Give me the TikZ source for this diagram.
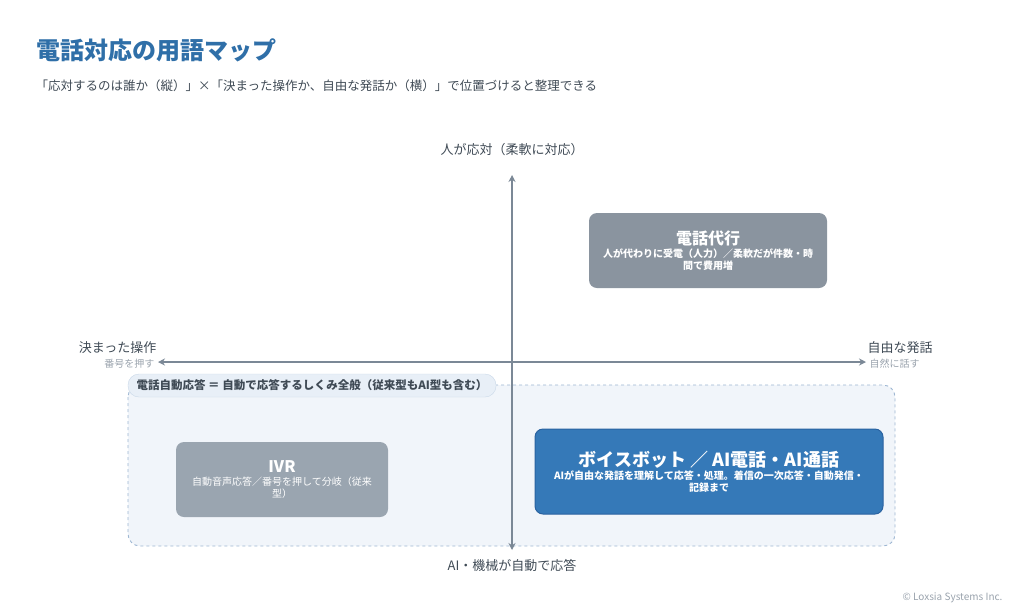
\documentclass[tikz,border=0pt]{standalone}
\usepackage{fontspec}
\setmainfont{Noto Sans CJK JP}
\usetikzlibrary{arrows.meta}
\definecolor{titleblue}{HTML}{2F6FA8}
\definecolor{axisgray}{HTML}{7B8896}
\definecolor{txtgray}{HTML}{3F4A55}
\definecolor{lightgray}{HTML}{9AA3AD}
\definecolor{zonefill}{HTML}{F1F5FA}
\definecolor{zoneline}{HTML}{9DB6D2}
\definecolor{pillfill}{HTML}{E8EFF7}
\definecolor{pillline}{HTML}{C9D8E8}
\definecolor{agentfill}{HTML}{8A949F}
\definecolor{ivrfill}{HTML}{9AA5B0}
\definecolor{botfill}{HTML}{3579B8}
\definecolor{botline}{HTML}{2A62A0}
\tikzset{
  term/.style={rounded corners=8pt, text=white, align=center},
  axis/.style={axisgray, line width=2.2pt, -{Stealth[length=7pt,width=7pt]}},
}
\begin{document}
\begin{tikzpicture}[x=1pt,y=-1pt]
    \useasboundingbox (0,0) rectangle (1024,614);

    \node [anchor=west, text=titleblue, font=\bfseries\fontsize{24}{28}\selectfont] (title) at (33,50) {電話対応の用語マップ};
    \node [anchor=west, text=txtgray, font=\fontsize{12.5}{14}\selectfont] (sub) at (32,86) {「応対するのは誰か（縦）」×「決まった操作か、自由な発話か（横）」で位置づけると整理できる};

    % automatic zone
    \draw [zoneline, fill=zonefill, dashed, line width=0.9pt, rounded corners=12pt] (128,385) rectangle (895,546);

    % axes
    \coordinate (c) at (512,362);
    \coordinate (top) at (512,175);
    \coordinate (bot) at (512,550);
    \coordinate (left) at (158,362);
    \coordinate (right) at (866,362);
    \draw [axis] (c) -- (top);
    \draw [axis] (c) -- (bot);
    \draw [axis] (c) -- (left);
    \draw [axis] (c) -- (right);

    \node [txtgray, font=\fontsize{13}{15}\selectfont] (toplab) at (512,150) {人が応対（柔軟に対応）};
    \node [txtgray, font=\fontsize{13}{15}\selectfont] (botlab) at (512,565) {AI・機械が自動で応答};
    \node [anchor=east, txtgray, font=\fontsize{13}{15}\selectfont] (leftlab) at (160,348) {決まった操作};
    \node [anchor=east, lightgray, font=\fontsize{10}{11}\selectfont] (leftsub) at (158,364) {番号を押す};
    \node [anchor=west, txtgray, font=\fontsize{13}{15}\selectfont] (rightlab) at (864,348) {自由な発話};
    \node [anchor=west, lightgray, font=\fontsize{10}{11}\selectfont] (rightsub) at (866,364) {自然に話す};

    \node [draw=pillline, fill=pillfill, rounded corners=11pt, minimum width=368pt, minimum height=23pt, text=txtgray, font=\bfseries\fontsize{11.5}{13}\selectfont] (pill) at (312,385.5) {電話自動応答 ＝ 自動で応答するしくみ全般（従来型もAI型も含む）};

    % terms
    \node [term, fill=agentfill, minimum width=238pt, minimum height=75pt, font=\bfseries] (agent) at (708,250.5)
        {\fontsize{16}{19}\selectfont 電話代行\\[1pt]\fontsize{10}{14}\selectfont 人が代わりに受電（人力）／柔軟だが件数・時\\間で費用増};
    \node [term, fill=ivrfill, minimum width=212pt, minimum height=75pt] (ivr) at (282,479.5)
        {\bfseries\fontsize{16}{19}\selectfont IVR\\[1pt]\mdseries\fontsize{10}{14}\selectfont 自動音声応答／番号を押して分岐（従来\\型）};
    \node [term, draw=botline, line width=1pt, fill=botfill, minimum width=348pt, minimum height=85pt, font=\bfseries] (bot) at (709,471.5)
        {\fontsize{18}{22}\selectfont ボイスボット ／ AI電話・AI通話\\[1pt]\fontsize{10}{14}\selectfont AIが自由な発話を理解して応答・処理。着信の一次応答・自動発信・\\記録まで};

    \node [anchor=east, lightgray, font=\fontsize{10}{11}\selectfont] (copy) at (1006,598) {© Loxsia Systems Inc.};
\end{tikzpicture}
\end{document}
